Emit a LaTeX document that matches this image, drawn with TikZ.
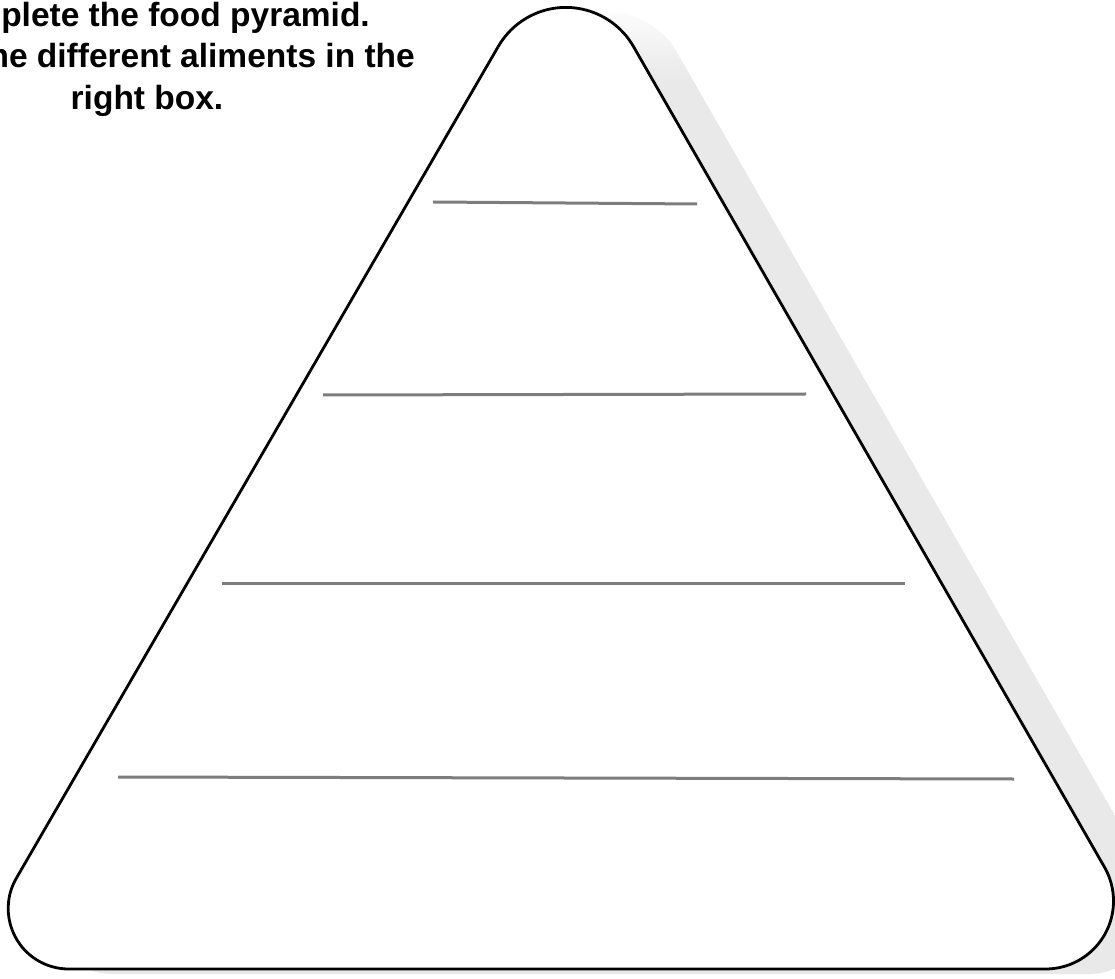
\documentclass[tikz,border=0pt]{standalone}
\usepackage{fontspec}
\setmainfont{Liberation Sans}
\definecolor{shc}{RGB}{233,233,233}
\definecolor{rulegray}{RGB}{125,125,125}
\pgfdeclareverticalshading{shfade}{100bp}{color(0bp)=(shc); color(71bp)=(shc); color(75bp)=(white); color(100bp)=(white)}
\begin{document}
\begin{tikzpicture}[x=1pt,y=1pt,
  pyr/.style={line width=2.8pt, draw=black, fill=white},
  shadowshape/.style={shading=shfade, draw=none},
  fillline/.style={draw=rulegray, line width=3pt},
  instr/.style={font=\bfseries\fontsize{33.5}{40}\selectfont, inner sep=0pt}]
\useasboundingbox (0,0) rectangle (1115,978);
% shadow
\path[shadowshape, shift={(43,-5)}]
  (68.7,9) -- (1045.5,9) arc[start angle=-90, end angle=29.85, radius=68]
  -- (633.5,931.4) arc[start angle=29.85, end angle=149.91, radius=78]
  -- (16.36,99.83) arc[start angle=149.91, end angle=270, radius=60.5] -- cycle;
% pyramid outline
\path[pyr]
  (68.7,9) -- (1045.5,9) arc[start angle=-90, end angle=29.85, radius=68]
  -- (633.5,931.4) arc[start angle=29.85, end angle=149.91, radius=78]
  -- (16.36,99.83) arc[start angle=149.91, end angle=270, radius=60.5] -- cycle;
% writing lines
\coordinate (l1a) at (433,776); \coordinate (l1b) at (697,774);
\coordinate (l2a) at (323,583); \coordinate (l2b) at (806,584);
\coordinate (l3a) at (222,394.5); \coordinate (l3b) at (905,394.5);
\coordinate (l4a) at (118,201); \coordinate (l4b) at (1014,199);
\draw[fillline] (l1a) -- (l1b);
\draw[fillline] (l2a) -- (l2b);
\draw[fillline] (l3a) -- (l3b);
\draw[fillline] (l4a) -- (l4b);
% instructions (cut off at the left edge)
\node[instr, anchor=base east] (t1) at (370,951) {plete the food pyramid.};
\node[instr, anchor=base east] (t2) at (415,910) {he different aliments in the};
\node[instr, anchor=base] (t3) at (147,868) {right box.};
\end{tikzpicture}
\end{document}
